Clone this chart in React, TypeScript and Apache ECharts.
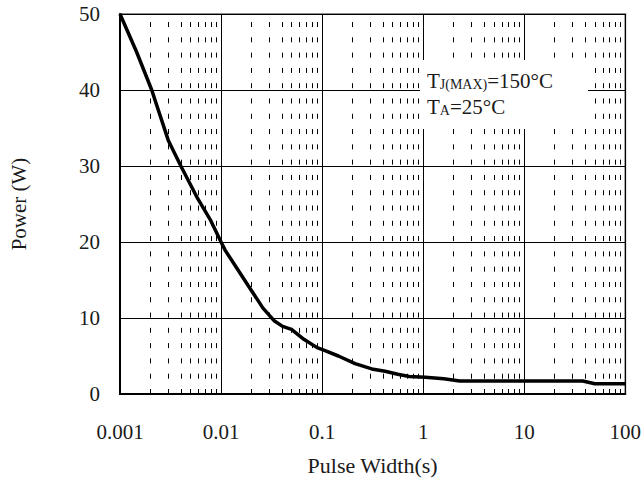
import React, { useEffect, useRef } from "react";
import * as echarts from "echarts";

const pulseWidth = [
  0.001, 0.00146, 0.00206, 0.003, 0.004, 0.00588, 0.00792, 0.01, 0.011, 0.0186,
  0.026, 0.0338, 0.0407, 0.0498, 0.066, 0.0892, 0.107, 0.145, 0.212, 0.31, 0.42,
  0.56, 0.73, 1.05, 1.6, 2.3, 38, 50, 100,
];
const power = [
  50, 45, 40, 33.4, 30, 25.7, 22.8, 20, 18.9, 14.25, 11.3, 9.6, 8.9, 8.5, 7.2,
  6.1, 5.7, 5.0, 4.0, 3.3, 3.0, 2.6, 2.3, 2.2, 2.0, 1.7, 1.7, 1.35, 1.35,
];
const xTickLabels = ["0.001", "0.01", "0.1", "1", "10", "100"];
const xDecades = [0.001, 0.01, 0.1, 1, 10];
const minorMultipliers = [2, 3, 4, 5, 6, 7, 8, 9];
const yMin = 0;
const yMax = 50;
const yInterval = 10;
const xName = "Pulse Width(s)";
const yName = "Power (W)";
const noteLine1 = ["T", "J(MAX)", "=150°C"];
const noteLine2 = ["T", "A", "=25°C"];

const FONT = "Liberation Serif";

export default function App() {
  const ref = useRef<HTMLDivElement>(null);
  useEffect(() => {
    if (!ref.current) return;
    const chart = echarts.init(ref.current, null, { renderer: "svg" });
    const minorValues: number[] = [];
    xDecades.forEach((d) =>
      minorMultipliers.forEach((m) => minorValues.push(parseFloat((d * m).toPrecision(3))))
    );
    const data = pulseWidth.map((x, i) => [x, power[i]]);
    chart.setOption({
      animation: false,
      textStyle: { fontFamily: FONT },
      grid: {
        left: 111,
        top: 14,
        right: 18,
        bottom: 80,
        show: true,
        borderColor: "#8a8a8a",
        borderWidth: 2,
        backgroundColor: "transparent",
      },
      xAxis: {
        type: "log",
        logBase: 10,
        min: 0.001,
        max: 100,
        name: xName,
        nameLocation: "middle",
        nameGap: 60,
        nameTextStyle: { fontFamily: FONT, fontSize: 22, color: "#1a1a1a" },
        axisLine: { show: true, lineStyle: { color: "#000", width: 2 } },
        axisTick: { show: false },
        axisLabel: {
          fontFamily: FONT,
          fontSize: 21,
          color: "#1a1a1a",
          margin: 27,
          formatter: (v: number) => {
            const idx = Math.round(Math.log10(v)) + 3;
            return xTickLabels[idx] ?? "";
          },
        },
        splitLine: { show: true, lineStyle: { color: "#000", width: 1 } },
        minorTick: { show: false },
        minorSplitLine: { show: false },
      },
      yAxis: {
        type: "value",
        min: yMin,
        max: yMax,
        interval: yInterval,
        name: yName,
        nameLocation: "middle",
        nameGap: 91,
        nameRotate: 90,
        nameTextStyle: { fontFamily: FONT, fontSize: 21, color: "#1a1a1a" },
        axisLine: { show: true, lineStyle: { color: "#000", width: 2 } },
        axisTick: { show: false },
        axisLabel: { fontFamily: FONT, fontSize: 21, color: "#1a1a1a", margin: 20 },
        splitLine: { show: true, lineStyle: { color: "#000", width: 1 } },
      },
      series: [
        {
          type: "line",
          data,
          symbol: "none",
          smooth: false,
          lineStyle: { color: "#000", width: 3.5 },
          z: 5,
          silent: true,
          markLine: {
            silent: true,
            precision: 10,
            symbol: ["none", "none"],
            label: { show: false },
            emphasis: { disabled: true },
            lineStyle: { color: "#000", width: 1, type: [5, 10.29], dashOffset: 0 },
            data: minorValues.map((v) => ({ xAxis: v })),
            z: 2,
          },
        },
      ],
      graphic: [
        {
          type: "rect",
          shape: { x: 420, y: 60, width: 168, height: 69 },
          style: { fill: "#fff" },
          z: 50,
          silent: true,
        },
        {
          type: "text",
          x: 427,
          y: 65,
          z: 51,
          silent: true,
          style: {
            text:
              `{m|${noteLine1[0]}}{s|${noteLine1[1]}}{m|${noteLine1[2]}}\n` +
              `{m|${noteLine2[0]}}{s|${noteLine2[1]}}{m|${noteLine2[2]}}`,
            verticalAlign: "top",
            align: "left",
            fill: "#1a1a1a",
            rich: {
              m: { fontFamily: FONT, fontSize: 21, lineHeight: 26, verticalAlign: "bottom", fill: "#1a1a1a" },
              s: { fontFamily: FONT, fontSize: 14, lineHeight: 26, verticalAlign: "bottom", fill: "#1a1a1a" },
            },
          },
        },
      ],
    });
    return () => chart.dispose();
  }, []);
  return <div ref={ref} style={{ width: 644, height: 481, position: "absolute", left: 0, top: 0 }} />;
}
